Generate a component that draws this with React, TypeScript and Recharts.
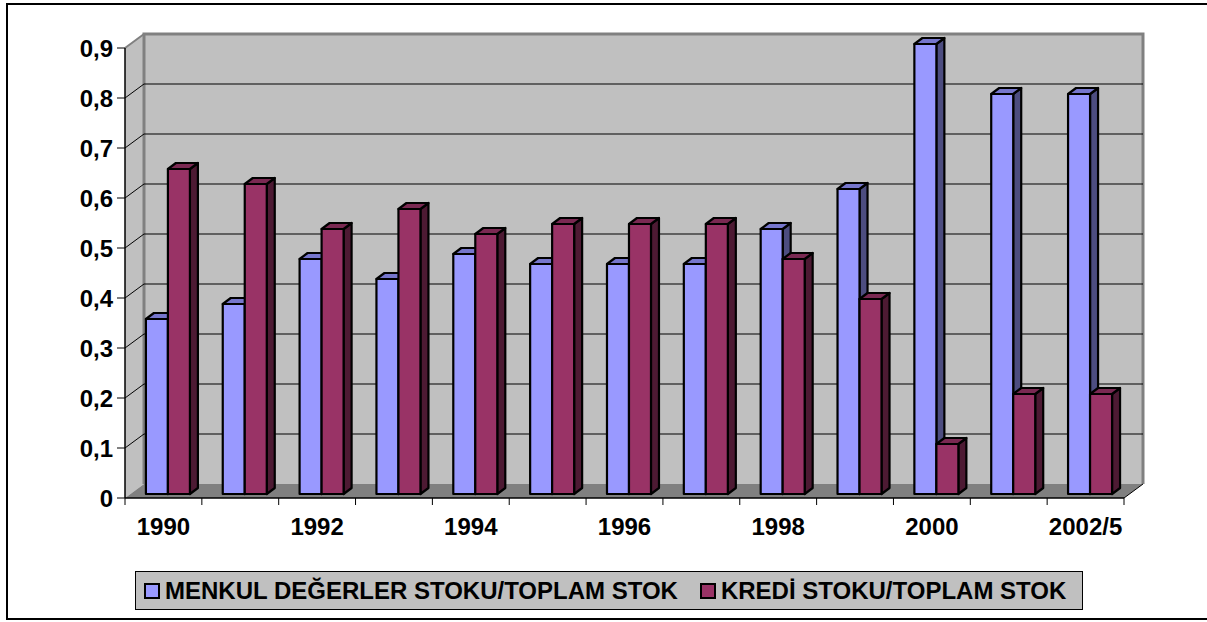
import React from "react"
import { BarChart, Bar, XAxis, YAxis, CartesianGrid, Legend } from "recharts"

const categories = ["1990", "1991", "1992", "1993", "1994", "1995", "1996", "1997", "1998", "1999", "2000", "2001", "2002/5"]
const menkulValues = [0.35, 0.38, 0.47, 0.43, 0.48, 0.46, 0.46, 0.46, 0.53, 0.61, 0.9, 0.8, 0.8]
const krediValues = [0.65, 0.62, 0.53, 0.57, 0.52, 0.54, 0.54, 0.54, 0.47, 0.39, 0.1, 0.2, 0.2]
const yTicks = [0, 0.1, 0.2, 0.3, 0.4, 0.5, 0.6, 0.7, 0.8, 0.9]
const seriesNames = ["MENKUL DEĞERLER STOKU/TOPLAM STOK", "KREDİ STOKU/TOPLAM STOK"]

const data = categories.map((c, i) => ({ year: c, menkul: menkulValues[i], kredi: krediValues[i] }))

// page / plot layout
const W = 1207
const H = 622
const PL = 125
const PR = 1124
const PT = 48
const PB = 498
const DX = 19 // wall depth
const DY = -14
const BAND = (PR - PL) / categories.length
const FONT = '"Liberation Sans", Arial, Helvetica, sans-serif'

const BLUE = { face: "#9999FF", side: "#4D4D80", top: "#7676CC" }
const RED = { face: "#993366", side: "#4D1A33", top: "#7A2952" }

const makeBar3D = (col: typeof BLUE) => (props: any) => {
  const { x, y, width, height } = props
  if (height == null || width == null) return <g />
  const fx = x + 4
  const fy = y - 4
  const sx = 8
  const sy = -6
  const st = { stroke: "#000", strokeWidth: 2.2, strokeLinejoin: "round" as const }
  return (
    <g>
      <polygon
        points={`${fx + width},${fy} ${fx + width + sx},${fy + sy} ${fx + width + sx},${fy + height + sy} ${fx + width},${fy + height}`}
        fill={col.side}
        {...st}
      />
      <polygon
        points={`${fx},${fy} ${fx + sx},${fy + sy} ${fx + width + sx},${fy + sy} ${fx + width},${fy}`}
        fill={col.top}
        {...st}
      />
      <rect x={fx} y={fy} width={width} height={height} fill={col.face} {...st} />
    </g>
  )
}

const gridLine = (props: any) => {
  const { x1, x2, y1, index } = props
  if (Math.abs(y1 - PT) < 1 || Math.abs(y1 - PB) < 1) return <g key={`g-${index}`} />
  return (
    <g key={`g-${index}`}>
      <line x1={x1} y1={y1} x2={x1 + DX} y2={y1 + DY} stroke="#000" strokeWidth={1} />
      <line x1={x1 + DX} y1={y1 + DY} x2={x2 + DX} y2={y1 + DY} stroke="#000" strokeWidth={1} />
    </g>
  )
}

const XTick = (props: any) => {
  const { x, payload, index } = props
  const half = BAND / 2
  return (
    <g>
      <line x1={x - half} y1={PB} x2={x - half} y2={PB + 7} stroke="#000" strokeWidth={1} />
      {index === categories.length - 1 && (
        <line x1={x + half} y1={PB} x2={x + half} y2={PB + 7} stroke="#000" strokeWidth={1} />
      )}
      {index % 2 === 0 && (
        <text x={x} y={PB + 20} dy="0.71em" textAnchor="middle" fontSize={24} fontWeight="bold" fontFamily={FONT} fill="#000">
          {payload.value}
        </text>
      )}
    </g>
  )
}

const renderLegend = () => (
  <div
    style={{
      boxSizing: "border-box",
      width: 948,
      height: 39,
      background: "#C0C0C0",
      border: "1px solid #000",
      display: "flex",
      alignItems: "center",
      paddingLeft: 8,
      fontFamily: FONT,
      fontWeight: "bold",
      fontSize: 24,
      color: "#000",
      whiteSpace: "nowrap",
    }}
  >
    {[BLUE, RED].map((col, i) => (
      <span key={i} style={{ display: "flex", alignItems: "center", marginRight: i === 0 ? 22 : 0 }}>
        <span style={{ display: "inline-block", width: 12, height: 12, border: "2px solid #000", background: col.face, marginRight: 5 }} />
        <span>{seriesNames[i]}</span>
      </span>
    ))}
  </div>
)

const Walls = () => (
  <svg width={W} height={H} style={{ position: "absolute", left: 0, top: 0 }}>
    <rect x={7} y={4} width={W + 10} height={615} fill="#fff" stroke="#000" strokeWidth={2} />
    <polygon points={`${PL},${PT} ${PL + DX},${PT + DY} ${PL + DX},${PB + DY} ${PL},${PB}`} fill="#C0C0C0" />
    <rect x={PL + DX} y={PT + DY} width={PR - PL} height={PB - PT} fill="#C0C0C0" />
    <polygon points={`${PL},${PB} ${PL + DX},${PB + DY} ${PR + DX},${PB + DY} ${PR},${PB}`} fill="#808080" />
    <line x1={PL} y1={PT} x2={PL + DX} y2={PT + DY} stroke="#808080" strokeWidth={2} />
    <polyline
      points={`${PL + DX},${PB + DY} ${PL + DX},${PT + DY} ${PR + DX},${PT + DY} ${PR + DX},${PB + DY}`}
      fill="none"
      stroke="#808080"
      strokeWidth={3}
    />
    <line x1={PR} y1={PB} x2={PR + DX} y2={PB + DY} stroke="#000" strokeWidth={1} />
  </svg>
)

export default function App() {
  return (
    <div style={{ position: "absolute", left: 0, top: 0, width: W, height: H, background: "#fff" }}>
      <Walls />
      <div style={{ position: "absolute", left: 0, top: 0 }}>
        <BarChart
          width={W}
          height={H}
          data={data}
          margin={{ top: PT, right: W - PR, bottom: H - PB - 40, left: PL - 100 }}
          barGap={0}
          barCategoryGap="22%"
        >
          <CartesianGrid horizontal={gridLine} vertical={false} />
          <XAxis dataKey="year" interval={0} height={40} tickLine={false} axisLine={{ stroke: "#000", strokeWidth: 1.5 }} tick={XTick} />
          <YAxis
            width={100}
            domain={[0, 0.9]}
            ticks={yTicks}
            interval={0}
            tickSize={8}
            tickMargin={4}
            tickFormatter={(v: number) => (v === 0 ? "0" : v.toFixed(1).replace(".", ","))}
            tick={{ fontSize: 24, fontWeight: "bold", fontFamily: FONT, fill: "#000" }}
            tickLine={{ stroke: "#000" }}
            axisLine={{ stroke: "#000", strokeWidth: 1.5 }}
          />
          <Legend
            layout="horizontal"
            verticalAlign="middle"
            align="center"
            content={renderLegend}
            wrapperStyle={{ left: 135, top: 571, width: 948 }}
          />
          <Bar dataKey="menkul" name={seriesNames[0]} fill={BLUE.face} shape={makeBar3D(BLUE)} isAnimationActive={false} />
          <Bar dataKey="kredi" name={seriesNames[1]} fill={RED.face} shape={makeBar3D(RED)} isAnimationActive={false} />
        </BarChart>
      </div>
    </div>
  )
}
